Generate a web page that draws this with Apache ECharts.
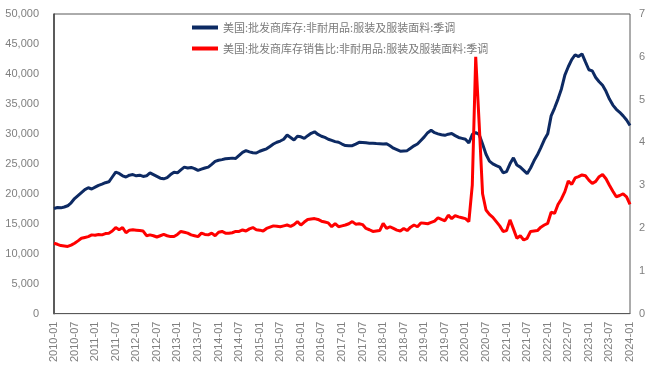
<!DOCTYPE html>
<html>
<head>
<meta charset="utf-8">
<script src="https://cdn.jsdelivr.net/npm/echarts@6/dist/echarts.min.js"></script>
<style>
html,body{margin:0;padding:0;background:#fff;}
#chart{width:649px;height:365px;}
</style>
</head>
<body>
<div id="chart"></div>
<script>
// Monthly categories 2010-01 .. 2024-01
var startYear = 2010, endYear = 2024;
var categories = [];
for (var y = startYear; y <= endYear; y++) {
  for (var m = 1; m <= 12; m++) {
    if (y === endYear && m > 1) break;
    categories.push(y + '-' + (m < 10 ? '0' + m : '' + m));
  }
}

var seriesNames = [
  '美国:批发商库存:非耐用品:服装及服装面料:季调',
  '美国:批发商库存销售比:非耐用品:服装及服装面料:季调'
];

// Inventory (left axis)
var inventory = [
  17550, 17700, 17650, 17800, 18000, 18500, 19200, 19700, 20200, 20700, 21000, 20800,
  21100, 21400, 21600, 21850, 22000, 22800, 23600, 23400, 23000, 22800, 23100, 23200,
  23000, 23100, 22900, 23000, 23500, 23200, 22900, 22600, 22500, 22700, 23200, 23600,
  23500, 24000, 24450, 24300, 24400, 24200, 23900, 24100, 24300, 24450, 24900, 25400,
  25600, 25700, 25850, 25900, 25950, 25900, 26400, 26900, 27200, 27000, 26850, 26800,
  27100, 27300, 27500, 27900, 28300, 28600, 28800, 29100, 29800, 29400, 28970, 29600,
  29500, 29250, 29700, 30100, 30350, 29900, 29600, 29400, 29100, 28900, 28700, 28600,
  28300, 28050, 28000, 28030, 28300, 28590, 28550, 28500, 28450, 28420, 28380, 28350,
  28300, 28350, 28000, 27600, 27350, 27100, 27150, 27200, 27600, 28000, 28300, 28900,
  29500, 30200, 30600, 30200, 30000, 29850, 29750, 29950, 30050, 29700, 29400, 29250,
  29100, 28480, 29900, 30200, 29900, 28300, 26600, 25450, 25000, 24700, 24450, 23500,
  23700, 25000, 26000, 24800, 24450, 23900, 23350, 24300, 25500, 26500, 27700, 29000,
  30000, 33000, 34300, 35800, 37500, 39800, 41200, 42400, 43200, 42900, 43350, 42000,
  40700, 40500, 39400, 38700, 38100, 37100, 35800, 34800, 34100, 33600, 33000, 32300,
  31400
];

// Inventory / sales ratio (right axis)
var ratio = [
  1.645, 1.62, 1.59, 1.58, 1.57, 1.60, 1.645, 1.70, 1.76, 1.78, 1.80, 1.84,
  1.83, 1.85, 1.84, 1.87, 1.88, 1.93, 2.01, 1.96, 2.01, 1.89, 1.95, 1.96,
  1.95, 1.94, 1.93, 1.82, 1.84, 1.82, 1.79, 1.82, 1.85, 1.82, 1.80, 1.80,
  1.85, 1.92, 1.90, 1.88, 1.84, 1.82, 1.80, 1.88, 1.85, 1.84, 1.88, 1.82,
  1.90, 1.92, 1.88, 1.88, 1.89, 1.92, 1.92, 1.955, 1.93, 1.98, 2.01, 1.96,
  1.95, 1.93, 1.99, 2.02, 2.05, 2.04, 2.03, 2.05, 2.07, 2.04, 2.08, 2.15,
  2.07, 2.14, 2.20, 2.21, 2.22, 2.20, 2.16, 2.14, 2.12, 2.03, 2.10, 2.03,
  2.05, 2.07, 2.10, 2.15, 2.09, 2.10, 2.08, 1.99, 1.96, 1.92, 1.93, 1.94,
  2.11, 1.99, 2.03, 1.99, 1.95, 1.93, 1.99, 1.94, 2.02, 2.07, 2.03, 2.12,
  2.11, 2.10, 2.13, 2.16, 2.24, 2.20, 2.17, 2.30, 2.22, 2.29, 2.26, 2.24,
  2.22, 2.15, 3.00, 6.00, 4.45, 2.80, 2.42, 2.32, 2.25, 2.15, 2.05, 1.92,
  1.94, 2.19, 1.98, 1.76, 1.82, 1.72, 1.76, 1.92, 1.93, 1.94, 2.02, 2.07,
  2.11, 2.37, 2.34, 2.55, 2.68, 2.85, 3.10, 3.02, 3.17, 3.20, 3.24, 3.22,
  3.12, 3.04, 3.09, 3.20, 3.25, 3.15, 3.00, 2.86, 2.73, 2.76, 2.80, 2.73,
  2.55
];

var chart = echarts.init(document.getElementById('chart'), null, {renderer: 'canvas'});
var labelColor = '#7f7f7f';
var fontFam = '"Liberation Sans", Arial, sans-serif';

chart.setOption({
  animation: false,
  backgroundColor: '#ffffff',
  grid: {
    left: 54, right: 19, top: 14, bottom: 49,
    show: true, borderColor: '#595959', borderWidth: 1
  },
  legend: {
    orient: 'vertical',
    left: 187, top: 17,
    itemWidth: 26, itemHeight: 4, itemGap: 10,
    icon: 'rect',
    textStyle: {color: '#7a7a7a', fontSize: 11, fontFamily: '"Noto Sans CJK SC", sans-serif'},
    data: seriesNames
  },
  xAxis: {
    type: 'category',
    data: categories,
    boundaryGap: false,
    axisLine: {show: true, lineStyle: {color: '#595959', width: 1}},
    axisTick: {show: false},
    axisLabel: {
      interval: 5, rotate: 90, margin: 8,
      color: labelColor, fontSize: 11, fontFamily: fontFam
    },
    splitLine: {show: false}
  },
  yAxis: [
    {
      type: 'value', min: 0, max: 50000, interval: 5000,
      axisLine: {show: true, lineStyle: {color: '#404040', width: 1.5}},
      axisTick: {show: false},
      splitLine: {show: false},
      axisLabel: {
        margin: 15, color: labelColor, fontSize: 11, fontFamily: fontFam,
        formatter: function (v) { return v.toLocaleString('en-US'); }
      }
    },
    {
      type: 'value', min: 0, max: 7, interval: 1,
      position: 'right',
      axisLine: {show: false},
      axisTick: {show: false},
      splitLine: {show: false},
      axisLabel: {margin: 9, color: labelColor, fontSize: 11, fontFamily: fontFam}
    }
  ],
  series: [
    {
      name: seriesNames[0], type: 'line', yAxisIndex: 0,
      data: inventory, showSymbol: false, symbol: 'none',
      itemStyle: {color: '#0d2a63'},
      lineStyle: {color: '#0d2a63', width: 3}
    },
    {
      name: seriesNames[1], type: 'line', yAxisIndex: 1,
      data: ratio, showSymbol: false, symbol: 'none',
      itemStyle: {color: '#ff0000'},
      lineStyle: {color: '#ff0000', width: 3}
    }
  ]
});
</script>
</body>
</html>
